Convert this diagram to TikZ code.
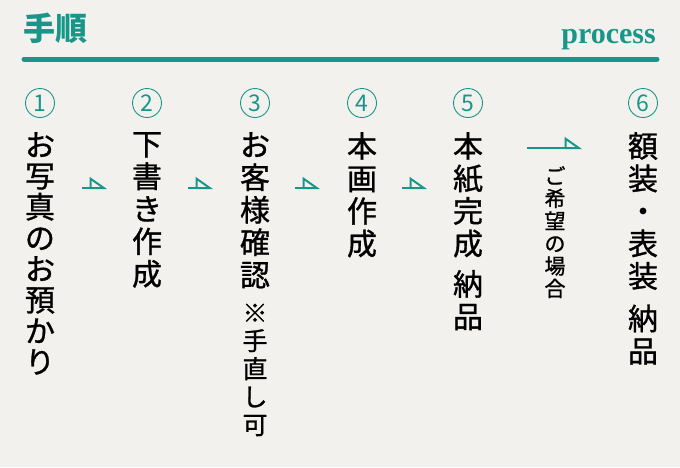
\documentclass[tikz,border=0pt]{standalone}
\usepackage{fontspec}
\setmainfont{Liberation Serif}
\newfontfamily\jp[FakeBold=1]{Noto Sans CJK JP}
\newfontfamily\jphead{Noto Sans CJK JP}
\usetikzlibrary{arrows.meta,positioning}
\definecolor{procteal}{HTML}{18968A}
\definecolor{paper}{HTML}{F3F1EE}

\tikzset{
  num/.style={circle, draw=procteal, line width=0.9pt, minimum size=29pt, inner sep=0pt,
    text=procteal, font=\jphead\fontsize{23}{23}\selectfont},
  tate/.style={anchor=north, align=center, inner sep=0pt, font=\jp\fontsize{30}{32.5}\selectfont},
  tatesmall/.style={anchor=north, align=center, inner sep=0pt, font=\jp\fontsize{25}{28}\selectfont},
  flow/.style={procteal, line width=2pt, -{Triangle[open,left,length=16pt,width=22pt]}}
}

\begin{document}
\begin{tikzpicture}[x=1pt,y=-1pt]
  \fill[paper] (0,0) rectangle (680,467);
  \useasboundingbox (0,0) rectangle (680,467);

  % heading
  \node (title) [anchor=west, inner sep=0pt, text=procteal, font=\jphead\bfseries\fontsize{32}{32}\selectfont] at (23,28) {手順};
  \node (eng) [anchor=base east, inner sep=0pt, text=procteal, font=\bfseries\fontsize{30}{30}\selectfont] at (656,43) {process};
  \draw[procteal, line width=5pt, line cap=round] (24,59) -- (657,59);

  % step numbers
  \node (n1) [num] at (40,103) {1};
  \node (n2) [num] at (147,103) {2};
  \node (n3) [num] at (255,103) {3};
  \node (n4) [num] at (362,103) {4};
  \node (n5) [num] at (468,103) {5};
  \node (n6) [num] at (643,103) {6};

  % steps, one character per line
  \node (s1) [tate, below=14pt of n1, font=\jp\fontsize{30}{31}\selectfont] {お\\写\\真\\の\\お\\預\\か\\り};
  \node (s2) [tate, below=14pt of n2] {下\\書\\き\\作\\成};
  \node (s3) [tate, below=14pt of n3] {お\\客\\様\\確\\認};
  \node (note3) [tatesmall, below=15pt of s3] {※\\手\\直\\し\\可};
  \node (s4) [tate, below=14pt of n4] {本\\画\\作\\成};
  \node (s5) [tate, below=14pt of n5] {本\\紙\\完\\成\\[8pt]納\\品};
  \node (s6) [tate, below=14pt of n6] {額\\装\\・\\表\\装\\[10pt]納\\品};
  \node (opt) [anchor=north, align=center, inner sep=0pt, font=\jp\fontsize{21}{22.5}\selectfont] at (555,166) {ご\\希\\望\\の\\場\\合};

  % arrows
  \foreach \i/\x in {1/82, 2/188, 3/295, 4/402} {
    \coordinate (a\i) at (\x,188);
    \coordinate (b\i) at (\x+25,188);
    \draw[flow] (a\i) -- (b\i);
  }
  \coordinate (a5) at (527,148);
  \coordinate (b5) at (582,148);
  \draw[flow] (a5) -- (b5);
\end{tikzpicture}
\end{document}
